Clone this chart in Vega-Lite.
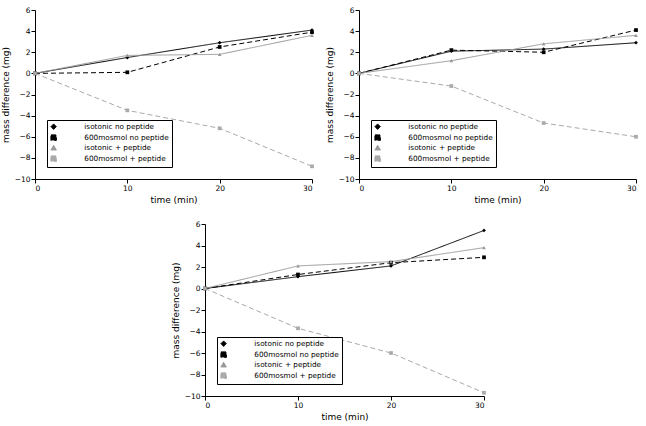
{
  "$schema": "https://vega.github.io/schema/vega-lite/v6.json",
  "padding": {"left": 1, "top": 6, "right": 4, "bottom": 4},
  "background": "white",
  "datasets": {
    "d": [
      {"panel": 1, "series": "isotonic no peptide", "time": 0, "mass": 0},
      {"panel": 1, "series": "isotonic no peptide", "time": 10, "mass": 1.5},
      {"panel": 1, "series": "isotonic no peptide", "time": 20, "mass": 2.9},
      {"panel": 1, "series": "isotonic no peptide", "time": 30, "mass": 4.1},
      {"panel": 1, "series": "600mosmol no peptide", "time": 0, "mass": 0},
      {"panel": 1, "series": "600mosmol no peptide", "time": 10, "mass": 0.1},
      {"panel": 1, "series": "600mosmol no peptide", "time": 20, "mass": 2.5},
      {"panel": 1, "series": "600mosmol no peptide", "time": 30, "mass": 3.9},
      {"panel": 1, "series": "isotonic + peptide", "time": 0, "mass": 0},
      {"panel": 1, "series": "isotonic + peptide", "time": 10, "mass": 1.7},
      {"panel": 1, "series": "isotonic + peptide", "time": 20, "mass": 1.8},
      {"panel": 1, "series": "isotonic + peptide", "time": 30, "mass": 3.6},
      {"panel": 1, "series": "600mosmol + peptide", "time": 0, "mass": 0},
      {"panel": 1, "series": "600mosmol + peptide", "time": 10, "mass": -3.5},
      {"panel": 1, "series": "600mosmol + peptide", "time": 20, "mass": -5.2},
      {"panel": 1, "series": "600mosmol + peptide", "time": 30, "mass": -8.8},
      {"panel": 2, "series": "isotonic no peptide", "time": 0, "mass": 0},
      {"panel": 2, "series": "isotonic no peptide", "time": 10, "mass": 2.1},
      {"panel": 2, "series": "isotonic no peptide", "time": 20, "mass": 2.3},
      {"panel": 2, "series": "isotonic no peptide", "time": 30, "mass": 2.9},
      {"panel": 2, "series": "600mosmol no peptide", "time": 0, "mass": 0},
      {"panel": 2, "series": "600mosmol no peptide", "time": 10, "mass": 2.2},
      {"panel": 2, "series": "600mosmol no peptide", "time": 20, "mass": 2.0},
      {"panel": 2, "series": "600mosmol no peptide", "time": 30, "mass": 4.1},
      {"panel": 2, "series": "isotonic + peptide", "time": 0, "mass": 0},
      {"panel": 2, "series": "isotonic + peptide", "time": 10, "mass": 1.2},
      {"panel": 2, "series": "isotonic + peptide", "time": 20, "mass": 2.8},
      {"panel": 2, "series": "isotonic + peptide", "time": 30, "mass": 3.6},
      {"panel": 2, "series": "600mosmol + peptide", "time": 0, "mass": 0},
      {"panel": 2, "series": "600mosmol + peptide", "time": 10, "mass": -1.2},
      {"panel": 2, "series": "600mosmol + peptide", "time": 20, "mass": -4.7},
      {"panel": 2, "series": "600mosmol + peptide", "time": 30, "mass": -6.0},
      {"panel": 3, "series": "isotonic no peptide", "time": 0, "mass": 0},
      {"panel": 3, "series": "isotonic no peptide", "time": 10, "mass": 1.1},
      {"panel": 3, "series": "isotonic no peptide", "time": 20, "mass": 2.1},
      {"panel": 3, "series": "isotonic no peptide", "time": 30, "mass": 5.4},
      {"panel": 3, "series": "600mosmol no peptide", "time": 0, "mass": 0},
      {"panel": 3, "series": "600mosmol no peptide", "time": 10, "mass": 1.3},
      {"panel": 3, "series": "600mosmol no peptide", "time": 20, "mass": 2.4},
      {"panel": 3, "series": "600mosmol no peptide", "time": 30, "mass": 2.9},
      {"panel": 3, "series": "isotonic + peptide", "time": 0, "mass": 0},
      {"panel": 3, "series": "isotonic + peptide", "time": 10, "mass": 2.1},
      {"panel": 3, "series": "isotonic + peptide", "time": 20, "mass": 2.5},
      {"panel": 3, "series": "isotonic + peptide", "time": 30, "mass": 3.8},
      {"panel": 3, "series": "600mosmol + peptide", "time": 0, "mass": 0},
      {"panel": 3, "series": "600mosmol + peptide", "time": 10, "mass": -3.7},
      {"panel": 3, "series": "600mosmol + peptide", "time": 20, "mass": -6.0},
      {"panel": 3, "series": "600mosmol + peptide", "time": 30, "mass": -9.7}
    ]
  },
  "config": {
    "font": "DejaVu Sans",
    "view": {"stroke": null},
    "axis": {
      "grid": false, "domainColor": "black", "tickColor": "black", "tickSize": 4, "labelPadding": 1,
      "labelColor": "black", "labelFontSize": 7.5, "titleFontSize": 9, "titleFontWeight": "normal", "titleColor": "black", "titlePadding": 4
    },
    "legend": {
      "orient": "bottom-left", "offset": 12, "fillColor": "white", "strokeColor": "black",
      "padding": 3, "labelFontSize": 7.3, "labelColor": "black", "rowPadding": 0, "symbolSize": 30,
      "symbolStrokeWidth": 1, "labelOffset": 27
    }
  },
  "resolve": {"scale": {"color": "independent", "strokeDash": "independent", "shape": "independent"}, "legend": {"color": "independent", "strokeDash": "independent", "shape": "independent"}},
  "spacing": 15,
  "vconcat": [
    {
      "spacing": 11,
      "resolve": {"scale": {"color": "independent", "strokeDash": "independent", "shape": "independent"}, "legend": {"color": "independent", "strokeDash": "independent", "shape": "independent"}},
      "hconcat": [
        {
          "width": 277, "height": 169,
          "data": {"name": "d"},
          "transform": [{"filter": "datum.panel == 1"}],
          "encoding": {
            "x": {"field": "time", "type": "quantitative", "title": "time (min)", "scale": {"domain": [0, 30], "nice": false}, "axis": {"values": [0, 10, 20, 30]}},
            "y": {"field": "mass", "type": "quantitative", "title": "mass difference (mg)", "scale": {"domain": [-10, 6], "nice": false}, "axis": {"values": [-10, -8, -6, -4, -2, 0, 2, 4, 6]}}
          },
          "layer": [
            {"mark": {"type": "line", "strokeWidth": 1},
             "encoding": {
              "color": {"field": "series", "type": "nominal", "title": null, "scale": {"domain": ["isotonic no peptide", "600mosmol no peptide", "isotonic + peptide", "600mosmol + peptide"], "range": ["black", "black", "#999999", "#aaaaaa"]},
                "legend": {"encode": {"symbols": {"update": {
                  "shape": {"value": {"expr": "datum.value === 'isotonic no peptide' ? 'M-1,0L8.7,0M4,-0.7L4.7,0L4,0.7L3.3,0Z' : datum.value === 'isotonic + peptide' ? 'M-1,0L8.7,0M4,-0.7L4.7,0.6L3.3,0.6Z' : 'M-1,0L0.4,0M1.2,0L2.6,0M5.4,0L6.8,0M7.6,0L8.7,0M3.3,-0.7L4.7,-0.7L4.7,0.7L3.3,0.7Z'"}},
                  "fill": {"value": {"expr": "datum.value === 'isotonic + peptide' ? '#999999' : datum.value === '600mosmol + peptide' ? '#aaaaaa' : 'black'"}},
                  "stroke": {"value": {"expr": "datum.value === 'isotonic + peptide' ? '#999999' : datum.value === '600mosmol + peptide' ? '#aaaaaa' : 'black'"}},
                  "strokeDash": {"value": []},
                  "strokeWidth": {"value": 1},
                  "opacity": {"value": 1}
                }}}}},
              "strokeDash": {"field": "series", "type": "nominal", "legend": null, "scale": {"domain": ["isotonic no peptide", "600mosmol no peptide", "isotonic + peptide", "600mosmol + peptide"], "range": [[1, 0], [5, 3], [1, 0], [5, 3]]}}
             }},
            {"mark": {"type": "point", "filled": true, "size": 14, "opacity": 1},
             "encoding": {
              "color": {"field": "series", "type": "nominal", "legend": null},
              "shape": {"field": "series", "type": "nominal", "legend": null, "scale": {"domain": ["isotonic no peptide", "600mosmol no peptide", "isotonic + peptide", "600mosmol + peptide"], "range": ["diamond", "square", "triangle-up", "square"]}}}}
          ]
        },
        {
          "width": 277, "height": 169,
          "data": {"name": "d"},
          "transform": [{"filter": "datum.panel == 2"}],
          "encoding": {
            "x": {"field": "time", "type": "quantitative", "title": "time (min)", "scale": {"domain": [0, 30], "nice": false}, "axis": {"values": [0, 10, 20, 30]}},
            "y": {"field": "mass", "type": "quantitative", "title": "mass difference (mg)", "scale": {"domain": [-10, 6], "nice": false}, "axis": {"values": [-10, -8, -6, -4, -2, 0, 2, 4, 6]}}
          },
          "layer": [
            {"mark": {"type": "line", "strokeWidth": 1},
             "encoding": {
              "color": {"field": "series", "type": "nominal", "title": null, "scale": {"domain": ["isotonic no peptide", "600mosmol no peptide", "isotonic + peptide", "600mosmol + peptide"], "range": ["black", "black", "#999999", "#aaaaaa"]},
                "legend": {"encode": {"symbols": {"update": {
                  "shape": {"value": {"expr": "datum.value === 'isotonic no peptide' ? 'M-1,0L8.7,0M4,-0.7L4.7,0L4,0.7L3.3,0Z' : datum.value === 'isotonic + peptide' ? 'M-1,0L8.7,0M4,-0.7L4.7,0.6L3.3,0.6Z' : 'M-1,0L0.4,0M1.2,0L2.6,0M5.4,0L6.8,0M7.6,0L8.7,0M3.3,-0.7L4.7,-0.7L4.7,0.7L3.3,0.7Z'"}},
                  "fill": {"value": {"expr": "datum.value === 'isotonic + peptide' ? '#999999' : datum.value === '600mosmol + peptide' ? '#aaaaaa' : 'black'"}},
                  "stroke": {"value": {"expr": "datum.value === 'isotonic + peptide' ? '#999999' : datum.value === '600mosmol + peptide' ? '#aaaaaa' : 'black'"}},
                  "strokeDash": {"value": []},
                  "strokeWidth": {"value": 1},
                  "opacity": {"value": 1}
                }}}}},
              "strokeDash": {"field": "series", "type": "nominal", "legend": null, "scale": {"domain": ["isotonic no peptide", "600mosmol no peptide", "isotonic + peptide", "600mosmol + peptide"], "range": [[1, 0], [5, 3], [1, 0], [5, 3]]}}
             }},
            {"mark": {"type": "point", "filled": true, "size": 14, "opacity": 1},
             "encoding": {
              "color": {"field": "series", "type": "nominal", "legend": null},
              "shape": {"field": "series", "type": "nominal", "legend": null, "scale": {"domain": ["isotonic no peptide", "600mosmol no peptide", "isotonic + peptide", "600mosmol + peptide"], "range": ["diamond", "square", "triangle-up", "square"]}}}}
          ]
        }
      ]
    },
    {
      "spacing": 0,
      "resolve": {"scale": {"color": "independent", "strokeDash": "independent", "shape": "independent"}, "legend": {"color": "independent", "strokeDash": "independent", "shape": "independent"}},
      "hconcat": [
        {
          "width": 136, "height": 172,
          "data": {"values": [{"blank": 1}]},
          "mark": {"type": "point", "opacity": 0},
          "encoding": {}
        },
        {
          "width": 279, "height": 172,
          "data": {"name": "d"},
          "transform": [{"filter": "datum.panel == 3"}],
          "encoding": {
            "x": {"field": "time", "type": "quantitative", "title": "time (min)", "scale": {"domain": [0, 30], "nice": false}, "axis": {"values": [0, 10, 20, 30]}},
            "y": {"field": "mass", "type": "quantitative", "title": "mass difference (mg)", "scale": {"domain": [-10, 6], "nice": false}, "axis": {"values": [-10, -8, -6, -4, -2, 0, 2, 4, 6]}}
          },
          "layer": [
            {"mark": {"type": "line", "strokeWidth": 1},
             "encoding": {
              "color": {"field": "series", "type": "nominal", "title": null, "scale": {"domain": ["isotonic no peptide", "600mosmol no peptide", "isotonic + peptide", "600mosmol + peptide"], "range": ["black", "black", "#999999", "#aaaaaa"]},
                "legend": {"encode": {"symbols": {"update": {
                  "shape": {"value": {"expr": "datum.value === 'isotonic no peptide' ? 'M-1,0L8.7,0M4,-0.7L4.7,0L4,0.7L3.3,0Z' : datum.value === 'isotonic + peptide' ? 'M-1,0L8.7,0M4,-0.7L4.7,0.6L3.3,0.6Z' : 'M-1,0L0.4,0M1.2,0L2.6,0M5.4,0L6.8,0M7.6,0L8.7,0M3.3,-0.7L4.7,-0.7L4.7,0.7L3.3,0.7Z'"}},
                  "fill": {"value": {"expr": "datum.value === 'isotonic + peptide' ? '#999999' : datum.value === '600mosmol + peptide' ? '#aaaaaa' : 'black'"}},
                  "stroke": {"value": {"expr": "datum.value === 'isotonic + peptide' ? '#999999' : datum.value === '600mosmol + peptide' ? '#aaaaaa' : 'black'"}},
                  "strokeDash": {"value": []},
                  "strokeWidth": {"value": 1},
                  "opacity": {"value": 1}
                }}}}},
              "strokeDash": {"field": "series", "type": "nominal", "legend": null, "scale": {"domain": ["isotonic no peptide", "600mosmol no peptide", "isotonic + peptide", "600mosmol + peptide"], "range": [[1, 0], [5, 3], [1, 0], [5, 3]]}}
             }},
            {"mark": {"type": "point", "filled": true, "size": 14, "opacity": 1},
             "encoding": {
              "color": {"field": "series", "type": "nominal", "legend": null},
              "shape": {"field": "series", "type": "nominal", "legend": null, "scale": {"domain": ["isotonic no peptide", "600mosmol no peptide", "isotonic + peptide", "600mosmol + peptide"], "range": ["diamond", "square", "triangle-up", "square"]}}}}
          ]
        }
      ]
    }
  ]
}
